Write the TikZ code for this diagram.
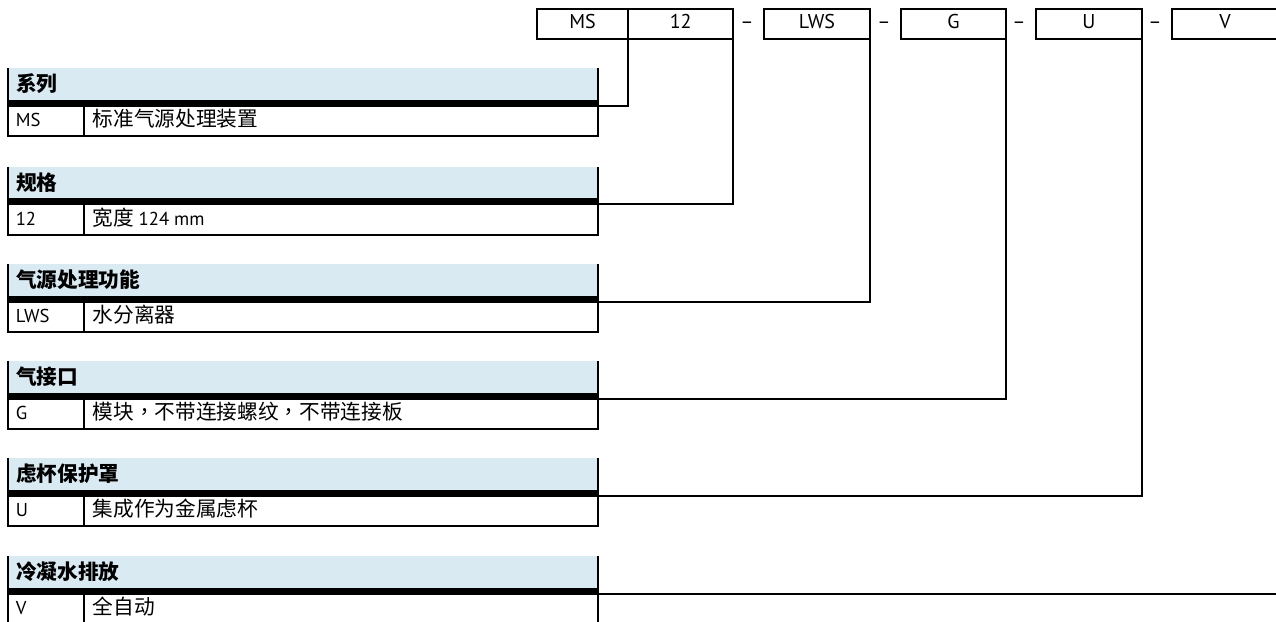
\documentclass[tikz,border=0pt]{standalone}
\usepackage{fontspec}
\setmainfont{PT Sans}
\newfontfamily\cjk{Noto Sans CJK SC}
\newfontfamily\cjktc{Noto Sans CJK TC}
\newcommand\fwcomma{{\cjktc ，}}
\usetikzlibrary{calc}
\definecolor{hdrblue}{RGB}{218,234,243}
\tikzset{
  topbox/.style={draw, line width=1.5pt, inner sep=0pt, outer sep=0pt,
    minimum width={#1*0.75pt}, minimum height={30.3*0.75pt},
    anchor=north west, font=\fontsize{15pt}{17pt}\selectfont,
    text height=9.5pt, text depth=2.8pt},
  dashtext/.style={inner sep=0pt, anchor=base, font=\fontsize{15pt}{17pt}\selectfont},
  hdrbox/.style={fill=hdrblue, inner sep=0pt, outer sep=0pt,
    minimum width={590*0.75pt}, minimum height={31.5*0.75pt}},
  barbox/.style={fill=black, inner sep=0pt, outer sep=0pt,
    minimum width={591*0.75pt}, minimum height={7*0.75pt}},
  hdrtext/.style={inner sep=0pt, font=\cjk\bfseries\fontsize{15.5pt}{18pt}\selectfont},
  codetext/.style={inner sep=0pt, font=\fontsize{14pt}{16pt}\selectfont},
  desctext/.style={inner sep=0pt, font=\cjk\fontsize{15.5pt}{18pt}\selectfont},
  rule/.style={line width=1.5pt, line join=miter},
  conn/.style={line width=1.5pt, line join=miter}
}
\newcommand\spectbl[5]{%
  \node[hdrbox, anchor=north west] (h#1) at (7.5,#2) {};
  \node[hdrtext, anchor=base west] (ht#1) at ($(h#1.north west)+(8.5,23.5)$) {#3};
  \node[barbox, anchor=north west] (bar#1) at (h#1.south west) {};
  \node[codetext, anchor=base west] (c#1) at ($(h#1.north west)+(8,58.5)$) {#4};
  \node[desctext, anchor=base west] (d#1) at ($(h#1.north west)+(85,58.5)$) {#5};
  \draw[rule] (h#1.north west) -- ++(0,68) -- ++(590,0) -- (h#1.north east);
  \draw[rule] ($(bar#1.south west)+(76.2,0)$) -- ++(0,29.5);
  \coordinate (j#1) at ($(h#1.north east)+(0,37.5)$);
}
\begin{document}
\begin{tikzpicture}[x=0.75pt,y=-0.75pt]
\useasboundingbox (0,0) rectangle (1276,621);
% order code boxes
\node[topbox=91] (bMS) at (537,9) {MS};
\node[topbox=105.3] (b12) at (628,9) {12};
\node[dashtext] (m1) at (747,28.5) {–};
\node[topbox=106] (bLWS) at (764,9) {LWS};
\node[dashtext] (m2) at (884,28.5) {–};
\node[topbox=105] (bG) at (901,9) {G};
\node[dashtext] (m3) at (1019,28.5) {–};
\node[topbox=105.7] (bU) at (1036,9) {U};
\node[dashtext] (m4) at (1155,28.5) {–};
\node[topbox=106] (bV) at (1172,9) {V};
% tables
\spectbl{1}{68}{系列}{MS}{标准气源处理装置}
\spectbl{2}{166.5}{规格}{12}{宽度 {\fontspec{PT Sans}\fontsize{14pt}{16pt}\selectfont 124 mm}}
\spectbl{3}{264}{气源处理功能}{LWS}{水分离器}
\spectbl{4}{361}{气接口}{G}{模块\fwcomma 不带连接螺纹\fwcomma 不带连接板}
\spectbl{5}{458}{虑杯保护罩}{U}{集成作为金属虑杯}
\spectbl{6}{556}{冷凝水排放}{V}{全自动}
% connectors
\draw[conn] (bMS.south east) |- (j1);
\draw[conn] (b12.south east) |- (j2);
\draw[conn] (bLWS.south east) |- (j3);
\draw[conn] (bG.south east) |- (j4);
\draw[conn] (bU.south east) |- (j5);
\draw[conn] (bV.south east) |- (j6);
\end{tikzpicture}
\end{document}
